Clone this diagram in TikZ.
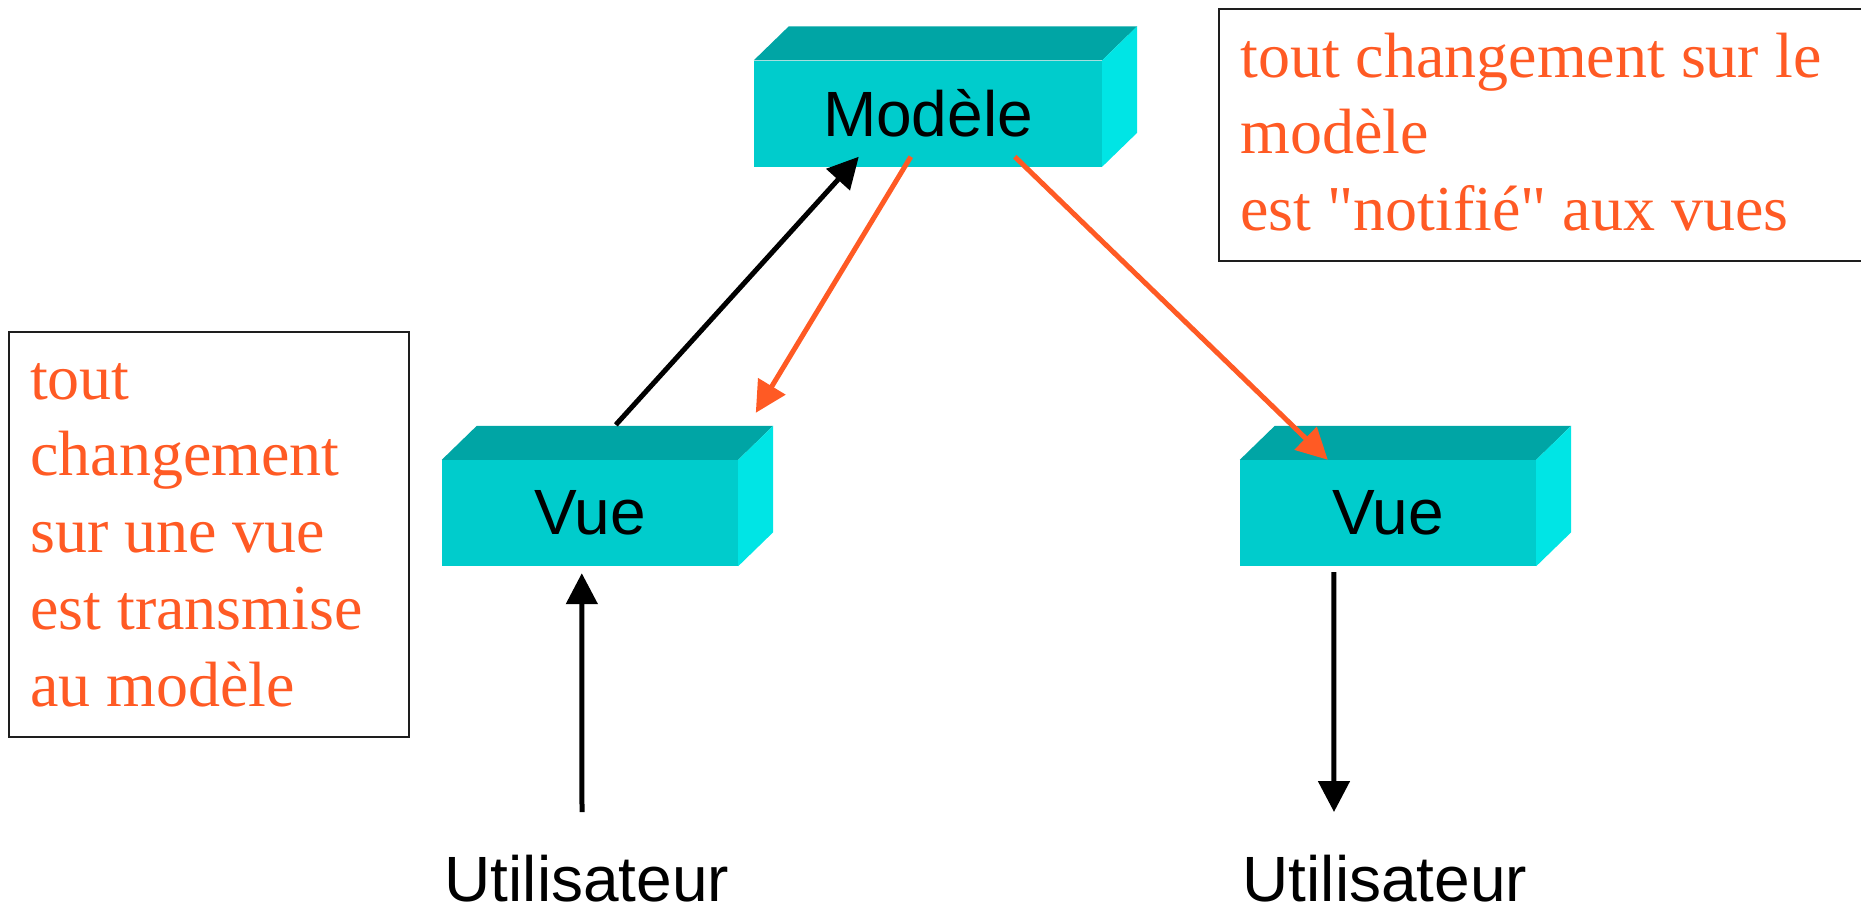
\documentclass[tikz,border=0pt]{standalone}
\usepackage{fontspec}
\setmainfont{Liberation Serif}[Ligatures=TeXOff]
\newfontfamily\arialf{Liberation Sans}
\usetikzlibrary{arrows.meta,calc}
\definecolor{frontc}{RGB}{0,204,204}
\definecolor{topc}{RGB}{0,165,165}
\definecolor{sidec}{RGB}{0,229,229}
\definecolor{orng}{RGB}{255,90,36}
\definecolor{bordc}{RGB}{30,30,30}
\begin{document}
\begin{tikzpicture}[x=1pt,y=-1pt,
  front/.style={fill=frontc, inner sep=0pt, minimum height=106pt,
    font=\arialf\fontsize{64}{77}\selectfont},
  usertext/.style={inner sep=0pt, anchor=base, font=\arialf\fontsize{64}{77}\selectfont},
  notebox/.style={draw=bordc, line width=2pt, inner sep=0pt},
  notetext/.style={text=orng, inner sep=0pt, anchor=north west, align=left,
    font=\fontsize{64}{76.7}\selectfont},
  blackarrow/.style={draw=black, line width=5pt, -{Triangle[length=31pt,width=31pt]}},
  orangearrow/.style={blackarrow, draw=orng},
]
\useasboundingbox (0,0) rectangle (1861,906);

% boxes (front faces)
\node[front, minimum width=348pt] (mod) at (928,113.5) {Modèle};
\node[front, minimum width=296pt] (vueL) at (590,513) {Vue};
\node[front, minimum width=296pt] (vueR) at (1388,513) {Vue};

% top and side faces
\foreach \b in {mod,vueL,vueR}{
  \fill[topc] (\b.north west) -- ++(35,-34) -- ($(\b.north east)+(35,-34)$) -- (\b.north east) -- cycle;
  \fill[sidec] (\b.north east) -- ++(35,-34) -- ($(\b.south east)+(35,-34)$) -- (\b.south east) -- cycle;
}

% note boxes
\node[notebox, minimum width=400pt, minimum height=405pt] (noteL) at (209,534.5) {};
\node[notebox, minimum width=681pt, minimum height=252pt] (noteR) at (1559.5,135) {};
\node[notetext] (noteLt) at ($(noteL.north west)+(22,18)$)
  {\rule{0pt}{50pt}tout\\changement\\sur une vue\\est transmise\\au modèle};
\node[notetext] (noteRt) at ($(noteR.north west)+(22,19)$)
  {\rule{0pt}{50pt}tout changement sur le\\modèle\\est "notifié" aux vues};

% users
\node[usertext] (userL) at (587,901) {Utilisateur};
\node[usertext] (userR) at (1385,901) {Utilisateur};
\coordinate (inL) at (582,812);
\coordinate (outR) at (1334,812);

% connectors
\draw[blackarrow] ($(vueL.north west)+(174,-35)$) -- ($(mod.south west)+(105,-10)$);
\draw[orangearrow] ($(mod.south west)+(157,-10)$) -- ($(vueL.north west)+(314,-47)$);
\draw[orangearrow] ($(mod.south west)+(261,-10)$) -- ($(vueR.north west)+(88,0)$);
\draw[blackarrow] (inL) -- ($(vueL.south west)+(140,7)$);
\draw[blackarrow] ($(vueR.south west)+(94,6)$) -- (outR);
\end{tikzpicture}
\end{document}
